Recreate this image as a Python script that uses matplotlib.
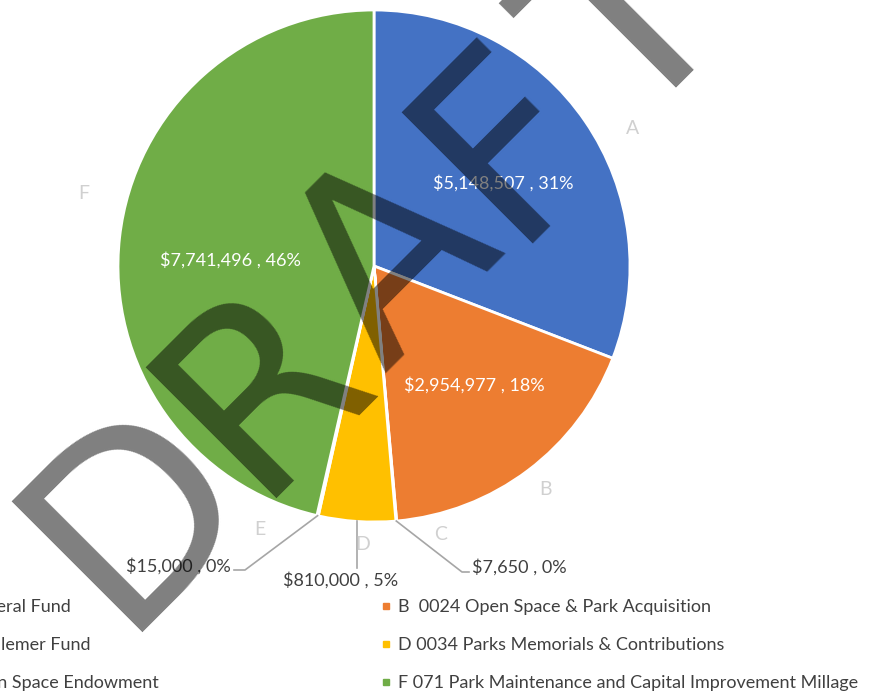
import matplotlib
matplotlib.use('Agg')
import matplotlib.pyplot as plt
from matplotlib.lines import Line2D
import numpy as np

# ---------------- data ----------------
categories = ['A', 'B', 'C', 'D', 'E', 'F']
values = [5148507, 2954977, 7650, 810000, 15000, 7741496]
legend_labels = [
    'A 0011 General Fund',
    'B  0024 Open Space & Park Acquisition',
    'C 0031 Hiddlemer Fund',
    'D 0034 Parks Memorials & Contributions',
    'E 0041 Open Space Endowment',
    'F 071 Park Maintenance and Capital Improvement Millage',
]
colors = ['#4472C4', '#ED7D31', '#A5A5A5', '#FFC000', '#5B9BD5', '#70AD47']
watermark = 'DRAFT'

# ---------------- layout ----------------
W, H = 877, 696
FONT = ['Lato', 'DejaVu Sans']
plt.rcParams['font.family'] = FONT
LBL_FS = 13.0
LEG_FS = 13.0

fig = plt.figure(figsize=(W / 100, H / 100), dpi=100)
cx, cy, R = 374, 266, 256          # pie centre / radius in pixels
ax = fig.add_axes([(cx - R) / W, (H - cy - R) / H, 2 * R / W, 2 * R / H])

wedges, _ = ax.pie(values, colors=colors, startangle=90, counterclock=False,
                   radius=1, wedgeprops=dict(edgecolor='white', linewidth=2))
ax.set_xlim(-1, 1)
ax.set_ylim(-1, 1)
ax.axis('off')

def px2d(px, py):
    return (px - cx) / R, (cy - py) / R

total = float(sum(values))
def fmt(v):
    return '${:,} , {:.0f}%'.format(v, 100 * v / total)

mids = [np.deg2rad((w.theta1 + w.theta2) / 2) for w in wedges]

# inside labels (A, B, F): radius fraction, angle tweak (deg)
inside = {0: (0.60, -2), 1: (0.61, 3), 5: (0.56, 4)}
for i, (rf, dth) in inside.items():
    th = mids[i] + np.deg2rad(dth)
    ax.text(rf * np.cos(th), rf * np.sin(th), fmt(values[i]), color='white',
            fontsize=LBL_FS, ha='center', va='center', zorder=5)

# outside labels with leader lines (C, D, E)
lead_col = '#A6A6A6'
# C
th = mids[2]
p0 = (np.cos(th), np.sin(th))
p1 = px2d(462, 572); p2 = px2d(469, 572)
ax.plot([p0[0], p1[0], p2[0]], [p0[1], p1[1], p2[1]], color=lead_col, lw=1.2,
        clip_on=False, zorder=4)
ax.text(*px2d(472, 567), fmt(values[2]), color='#404040', fontsize=LBL_FS,
        ha='left', va='center', zorder=5)
# D
th = mids[3]
p0 = (np.cos(th), np.sin(th))
p1 = (np.cos(th), px2d(0, 568)[1])
ax.plot([p0[0], p1[0]], [p0[1], p1[1]], color=lead_col, lw=1.2,
        clip_on=False, zorder=4)
ax.text(*px2d(341, 580), fmt(values[3]), color='#404040', fontsize=LBL_FS,
        ha='center', va='center', zorder=5)
# E
th = mids[4]
p0 = (np.cos(th), np.sin(th))
p1 = px2d(245, 570); p2 = px2d(234, 570)
ax.plot([p0[0], p1[0], p2[0]], [p0[1], p1[1], p2[1]], color=lead_col, lw=1.2,
        clip_on=False, zorder=4)
ax.text(*px2d(231, 566), fmt(values[4]), color='#404040', fontsize=LBL_FS,
        ha='right', va='center', zorder=5)

# category name labels
cat_pos = {0: (1.143, 28.1), 1: (1.10, -52.4), 2: (1.08, -76.0),
           3: (1.09, -92.3), 4: (1.12, -113.4), 5: (1.17, 165.9)}
for i, (rf, ang) in cat_pos.items():
    a = np.deg2rad(ang)
    ax.text(rf * np.cos(a), rf * np.sin(a), categories[i], color='#D0D0D0',
            fontsize=14, ha='center', va='center', zorder=5)

# ---------------- legend (two columns, left one runs off the canvas) ----------------
def handle(i):
    return Line2D([], [], marker='s', linestyle='', markersize=3.8,
                  markerfacecolor=colors[i], markeredgecolor=colors[i])

common = dict(frameon=False, fontsize=LEG_FS, handlelength=0.4, handletextpad=0.5,
              borderpad=0, borderaxespad=0, labelcolor='#404040')
row_y = [607, 645, 683]
# right column: left edge fixed
for r, i in enumerate([1, 3, 5]):
    fig.legend([handle(i)], [legend_labels[i]], loc='center left',
               bbox_to_anchor=(382 / W, 1 - row_y[r] / H), **common)
# left column: runs off the left edge; anchored by the visible text end
left_end = [71, 90, 159]
for r, i in enumerate([0, 2, 4]):
    fig.legend([handle(i)], [legend_labels[i]], loc='center right',
               bbox_to_anchor=(left_end[r] / W, 1 - row_y[r] / H), **common)

# ---------------- watermark (letters set along a 45 degree baseline) ----------------
WM_FS = 183
letter_pos = [-20, 170, 351, 531, 695]        # offsets along the baseline (px)
letter_rise = [0, 0, -5, 0, -10]              # offsets perpendicular to it (px)
ox, oy = 132, 618                             # baseline origin (px from top-left)
s2 = np.sqrt(2)
for k, ch in enumerate(watermark):
    d, t = letter_pos[k], letter_rise[k]
    px = ox + d / s2 - t / s2
    py = oy - d / s2 - t / s2
    fig.text(px / W, 1 - py / H, ch, fontsize=WM_FS, family='DejaVu Sans',
             color='black', alpha=0.5, rotation=45, rotation_mode='anchor',
             ha='left', va='baseline', zorder=100)

fig.savefig('out.png', dpi=100)
